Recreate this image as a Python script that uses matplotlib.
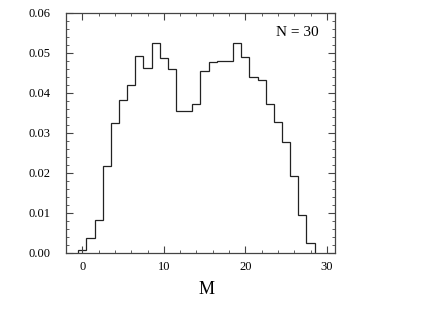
import numpy as np
import matplotlib
matplotlib.use("Agg")
import matplotlib.pyplot as plt
from matplotlib.ticker import MultipleLocator

# histogram of M for N = 30 (bins centred on integers)
m_values = np.arange(0, 29)
probability = [0.0008, 0.0037, 0.0083, 0.0218, 0.0325, 0.0383, 0.0419, 0.0493,
               0.0462, 0.0525, 0.0488, 0.0460, 0.0354, 0.0354, 0.0373, 0.0456,
               0.0478, 0.0480, 0.0480, 0.0525, 0.0490, 0.0440, 0.0433, 0.0373,
               0.0327, 0.0277, 0.0193, 0.0094, 0.0025]
x_ticks = [0, 10, 20, 30]
y_ticks = [0.00, 0.01, 0.02, 0.03, 0.04, 0.05, 0.06]
label_text = "N = 30"

plt.rcParams['font.family'] = ['Liberation Serif', 'DejaVu Serif']

fig = plt.figure(figsize=(4.24, 3.28), dpi=100)
ax = fig.add_axes([0.1557, 0.2287, 0.6343, 0.7317])

edges = np.append(m_values - 0.5, m_values[-1] + 0.5)
ax.stairs(probability, edges, color='#222222', linewidth=0.9)

ax.set_xlim(-2.0, 31.0)
ax.set_ylim(0.0, 0.06)
ax.set_xticks(x_ticks)
ax.set_yticks(y_ticks)
ax.set_yticklabels([f"{v:.2f}" for v in y_ticks])
ax.xaxis.set_minor_locator(MultipleLocator(2))
ax.yaxis.set_minor_locator(MultipleLocator(0.002))

ax.tick_params(which='both', direction='in', top=True, right=True,
               color='#444444', labelsize=9)
ax.tick_params(which='major', length=5, width=0.8)
ax.tick_params(which='minor', length=2.5, width=0.6)
ax.tick_params(axis='y', which='major', pad=11)
ax.tick_params(axis='x', which='major', pad=5.5)
for s in ax.spines.values():
    s.set_color('#444444')
    s.set_linewidth(0.9)

ax.set_xlabel('M', fontsize=13)
ax.xaxis.set_label_coords(0.524, -0.115)
ax.text(0.94, 0.92, label_text, transform=ax.transAxes, ha='right',
        va='center', fontsize=11)

fig.savefig('out.png', dpi=100)
